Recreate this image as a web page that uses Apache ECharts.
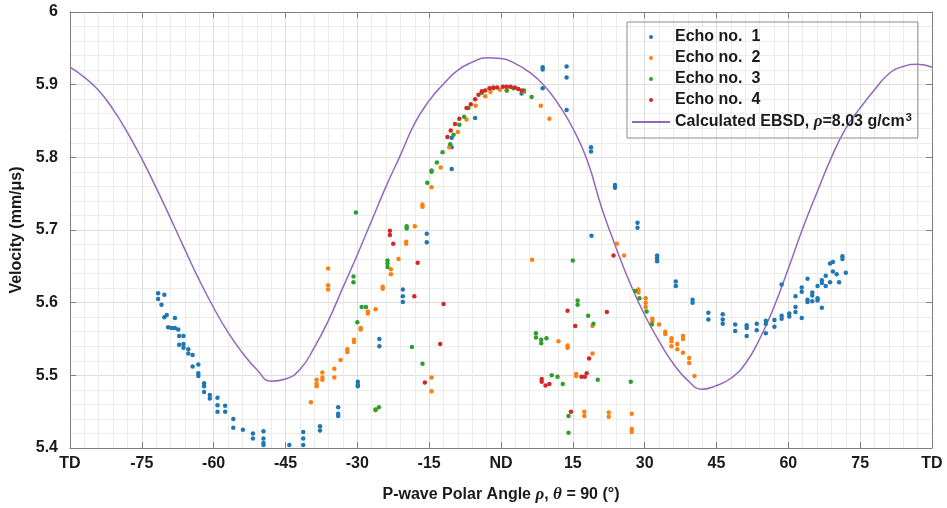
<!DOCTYPE html>
<html>
<head>
<meta charset="utf-8">
<script src="https://cdn.jsdelivr.net/npm/echarts@6.0.0/dist/echarts.min.js"></script>
<style>
  html, body { margin: 0; padding: 0; background: #fff; }
  #chart { width: 947px; height: 508px; }
</style>
</head>
<body>
<div id="chart"></div>
<script>
// x ticks every 15 deg, ends are TD, centre is ND
const xTickLabels = { '-90': 'TD', '0': 'ND', '90': 'TD' }

// calculated EBSD curve, read every 3 deg
const curveAngles = [-90, -87, -84, -81, -78, -75, -72, -69, -66, -63, -60, -57, -54, -51, -48, -45, -42, -39, -36, -33, -30,
    -27, -24, -21, -18, -15, -12, -9, -6, -3, 0, 3, 6, 9, 12, 15, 18, 21, 24, 27, 30,
    33, 36, 39, 42, 45, 48, 51, 54, 57, 60, 63, 66, 69, 72, 75, 78, 81, 84, 87, 90]
const curveValues = [5.924, 5.910, 5.892, 5.866, 5.834, 5.798, 5.758, 5.716, 5.673, 5.631, 5.593, 5.559, 5.531, 5.508, 5.492, 5.495, 5.508, 5.538, 5.576, 5.621, 5.666,
    5.713, 5.760, 5.803, 5.847, 5.878, 5.901, 5.920, 5.931, 5.937, 5.936, 5.929, 5.917, 5.899, 5.873, 5.840, 5.796, 5.731, 5.676, 5.626, 5.583,
    5.547, 5.516, 5.493, 5.481, 5.486, 5.496, 5.516, 5.550, 5.594, 5.647, 5.702, 5.752, 5.800, 5.840, 5.868, 5.893, 5.915, 5.925, 5.928, 5.924]

// measured echoes [angle, velocity]
const echo1 = [
    [-71.6, 5.613], [-71.6, 5.605], [-70.3, 5.611], [-70.9, 5.597], [-70.3, 5.580], [-69.8, 5.583], [-68.1, 5.579],
    [-69.5, 5.566], [-68.8, 5.565], [-68.1, 5.565], [-67.4, 5.563], [-67.2, 5.554], [-66.3, 5.554], [-67.2, 5.542], [-66.3, 5.543],
    [-66.3, 5.538], [-65.3, 5.536], [-65.3, 5.530], [-64.4, 5.528], [-64.4, 5.512], [-63.2, 5.515], [-63.2, 5.503], [-63.2, 5.499],
    [-62.0, 5.489], [-62.0, 5.485], [-62.0, 5.477], [-60.8, 5.473], [-60.8, 5.468], [-59.2, 5.469], [-59.2, 5.459], [-59.2, 5.450],
    [-57.6, 5.458], [-57.6, 5.450], [-55.9, 5.440], [-55.9, 5.428], [-53.9, 5.425], [-51.8, 5.420], [-51.8, 5.413],
    [-49.6, 5.423], [-49.6, 5.413], [-49.6, 5.407], [-49.6, 5.404], [-44.2, 5.404], [-41.3, 5.422], [-41.3, 5.413], [-41.3, 5.404],
    [-37.8, 5.430], [-37.8, 5.424], [-34.0, 5.456], [-34.0, 5.447], [-34.0, 5.444], [-29.9, 5.491], [-29.9, 5.487], [-29.9, 5.485],
    [-25.4, 5.550], [-25.4, 5.540], [-20.5, 5.618], [-20.5, 5.609], [-20.5, 5.601], [-15.5, 5.695], [-15.5, 5.683],
    [-10.3, 5.827], [-10.3, 5.814], [-10.3, 5.784], [-5.4, 5.854], [4.3, 5.888],
    [8.7, 5.924], [8.7, 5.921], [8.7, 5.895], [13.7, 5.925], [13.7, 5.910], [13.7, 5.865],
    [18.8, 5.814], [18.8, 5.808], [18.9, 5.692], [23.8, 5.762], [23.8, 5.758], [28.5, 5.710], [28.5, 5.703],
    [32.6, 5.665], [32.6, 5.661], [32.6, 5.657], [36.5, 5.629], [36.5, 5.623], [40.0, 5.604], [40.0, 5.600],
    [43.3, 5.586], [43.3, 5.577], [46.3, 5.584], [46.3, 5.577], [46.3, 5.571], [48.9, 5.570], [48.9, 5.561],
    [51.3, 5.569], [51.3, 5.565], [51.3, 5.554], [53.4, 5.571], [53.4, 5.562], [55.3, 5.575], [55.3, 5.571], [55.3, 5.558],
    [57.1, 5.576], [57.1, 5.567], [58.6, 5.625], [58.6, 5.582], [58.6, 5.578], [60.2, 5.585], [60.2, 5.581],
    [61.5, 5.609], [61.5, 5.594], [61.5, 5.587], [62.8, 5.621], [62.8, 5.615], [62.8, 5.579],
    [64.0, 5.633], [64.0, 5.604], [64.0, 5.601], [65.0, 5.614], [65.0, 5.610], [65.0, 5.602],
    [66.1, 5.623], [66.1, 5.606], [66.1, 5.603], [67.0, 5.593], [67.0, 5.631], [67.0, 5.627],
    [67.8, 5.637], [67.8, 5.623], [68.7, 5.654], [68.7, 5.628], [69.3, 5.656], [69.3, 5.643],
    [70.1, 5.639], [70.6, 5.628], [71.3, 5.664], [71.3, 5.660], [72.0, 5.641]
]
const echo2 = [
    [-39.7, 5.463], [-38.5, 5.494], [-38.5, 5.488], [-38.5, 5.485], [-37.3, 5.504], [-37.3, 5.497], [-37.3, 5.494],
    [-36.1, 5.647], [-36.1, 5.624], [-36.1, 5.618], [-34.8, 5.509], [-34.8, 5.497], [-33.5, 5.521],
    [-32.1, 5.536], [-32.1, 5.532], [-30.7, 5.549], [-30.7, 5.546], [-29.3, 5.565], [-29.3, 5.563], [-27.8, 5.588], [-27.8, 5.585],
    [-26.2, 5.591], [-26.2, 5.452], [-24.7, 5.622], [-24.7, 5.619], [-23.0, 5.646], [-23.0, 5.639],
    [-21.4, 5.660], [-19.8, 5.684], [-19.8, 5.681], [-18.0, 5.705], [-16.4, 5.735], [-16.4, 5.732],
    [-14.5, 5.759], [-14.5, 5.497], [-14.5, 5.478], [-12.6, 5.786], [-10.8, 5.814], [-9.0, 5.835], [-7.2, 5.852], [-5.3, 5.871],
    [-3.3, 5.884], [-2.2, 5.890], [-0.2, 5.893], [1.2, 5.892], [4.8, 5.890], [6.5, 5.659], [8.3, 5.871], [10.1, 5.853],
    [12.0, 5.547], [13.9, 5.541], [13.9, 5.538], [15.7, 5.502], [15.7, 5.499], [17.4, 5.450], [17.4, 5.444],
    [19.1, 5.568], [19.1, 5.530], [22.5, 5.449], [22.5, 5.443], [24.2, 5.681], [25.7, 5.665],
    [27.3, 5.447], [27.3, 5.426], [27.3, 5.422], [28.7, 5.618], [28.7, 5.614], [30.2, 5.606], [30.2, 5.600], [30.2, 5.594],
    [31.6, 5.578], [31.6, 5.574], [33.0, 5.570], [34.3, 5.560], [34.3, 5.557], [35.6, 5.551], [35.6, 5.547], [35.6, 5.540],
    [36.8, 5.543], [36.8, 5.536], [38.0, 5.554], [38.0, 5.550], [38.0, 5.531], [39.3, 5.524], [39.3, 5.517], [40.4, 5.499]
]
const echo3 = [
    [-30.3, 5.724], [-30.8, 5.636], [-30.8, 5.628], [-30.0, 5.573], [-29.1, 5.594], [-28.2, 5.594],
    [-26.2, 5.453], [-25.5, 5.456], [-23.7, 5.658], [-23.7, 5.654], [-23.7, 5.649],
    [-19.7, 5.705], [-19.7, 5.702], [-18.6, 5.539], [-16.4, 5.516],
    [-15.4, 5.765], [-14.5, 5.782], [-14.5, 5.780], [-13.4, 5.793], [-12.2, 5.807],
    [-10.6, 5.818], [-9.9, 5.831], [-8.7, 5.845], [-7.7, 5.856], [-6.8, 5.868],
    [-4.0, 5.889], [-1.6, 5.895], [1.2, 5.892], [2.6, 5.895], [4.8, 5.892], [6.4, 5.883],
    [7.3, 5.558], [7.3, 5.552], [8.4, 5.549], [8.4, 5.544], [9.5, 5.551],
    [10.6, 5.500], [11.8, 5.498], [12.9, 5.488], [14.1, 5.444], [14.1, 5.421],
    [15.0, 5.658], [16.0, 5.603], [16.0, 5.597], [18.2, 5.582], [19.3, 5.571],
    [20.2, 5.494], [27.1, 5.491], [28.0, 5.616], [28.9, 5.606], [30.4, 5.588], [31.5, 5.570]
]
const echo4 = [
    [-23.2, 5.699], [-23.2, 5.693], [-22.5, 5.681], [-18.1, 5.609], [-17.4, 5.655],
    [-15.9, 5.490], [-12.7, 5.543], [-12.0, 5.598],
    [-11.2, 5.828], [-10.5, 5.837], [-9.6, 5.846], [-8.7, 5.853], [-7.2, 5.868], [-6.3, 5.873],
    [-5.4, 5.880], [-4.7, 5.886], [-4.0, 5.891], [-3.3, 5.892], [-2.4, 5.895], [-1.6, 5.896],
    [-0.8, 5.896], [0.4, 5.897], [1.2, 5.897], [2.0, 5.897], [2.9, 5.896], [3.6, 5.894], [4.3, 5.892],
    [8.5, 5.495], [8.5, 5.491], [9.3, 5.486], [10.1, 5.488],
    [13.9, 5.589], [14.6, 5.450], [15.5, 5.568], [16.8, 5.498], [17.5, 5.498], [17.9, 5.503],
    [18.4, 5.523], [22.1, 5.587], [23.5, 5.665]
]

const echoNames = ['Echo no.  1', 'Echo no.  2', 'Echo no.  3', 'Echo no.  4']
const echoColors = ['#1f77b4', '#ff7f0e', '#2ca02c', '#d62728']
const curveName = 'Calculated EBSD'

const font = 'Liberation Sans, Arial, Helvetica, sans-serif'
const serif = 'Liberation Serif, Times New Roman, serif'
const axisGray = '#808080'

const chart = echarts.init(document.getElementById('chart'))

const curveData = curveAngles.map((a, i) => [a, curveValues[i]])

const commonX = {
    type: 'value',
    min: -90,
    max: 90,
    interval: 15,
    axisLine: { show: true, onZero: false, lineStyle: { color: axisGray, width: 1 } },
    axisTick: { show: true, inside: true, length: 6, lineStyle: { color: axisGray } }
}
const commonY = {
    type: 'value',
    min: 5.4,
    max: 6,
    interval: 0.1,
    axisLine: { show: true, onZero: false, lineStyle: { color: axisGray, width: 1 } },
    axisTick: { show: true, inside: true, length: 6, lineStyle: { color: axisGray } }
}

const option = {
    backgroundColor: '#ffffff',
    animation: false,
    grid: { left: 70, right: 15, top: 12, bottom: 52 },
    legend: {
        orient: 'vertical',
        left: 627,
        top: 22,
        padding: [6, 6, 6, 4],
        itemGap: 3,
        itemWidth: 38,
        itemHeight: 4,
        itemTextGap: 3,
        borderColor: '#8c8c8c',
        borderWidth: 1,
        backgroundColor: 'rgba(255,255,255,0)',
        data: [
            { name: echoNames[0], icon: 'circle' },
            { name: echoNames[1], icon: 'circle' },
            { name: echoNames[2], icon: 'circle' },
            { name: echoNames[3], icon: 'circle' },
            // line only, hide the little marker the line legend adds
            { name: curveName, itemStyle: { opacity: 0 } }
        ],
        formatter: (name) => {
            if (name === curveName) {
                return '{t|Calculated EBSD, }{i|ρ}{t|=8.03 g/cm}{s|3}'
            }
            return '{t|' + name + '}'
        },
        textStyle: {
            color: '#1a1a1a',
            fontFamily: font,
            fontWeight: 'bold',
            fontSize: 16,
            lineHeight: 18,
            rich: {
                t: { fontFamily: font, fontWeight: 'bold', fontSize: 16, lineHeight: 18, color: '#1a1a1a' },
                i: { fontFamily: serif, fontStyle: 'italic', fontWeight: 'bold', fontSize: 17, lineHeight: 18, color: '#1a1a1a' },
                s: { fontFamily: font, fontWeight: 'bold', fontSize: 11, lineHeight: 18, color: '#1a1a1a', padding: [0, 0, 9, 1] }
            }
        }
    },
    xAxis: [
        Object.assign({}, commonX, {
            position: 'bottom',
            name: 'P-wave Polar Angle {i|ρ}, {i|θ} = 90 (°)',
            nameLocation: 'middle',
            nameGap: 38,
            nameTextStyle: {
                color: '#1a1a1a',
                fontFamily: font,
                fontWeight: 'bold',
                fontSize: 16,
                rich: {
                    i: { fontFamily: serif, fontStyle: 'italic', fontSize: 17, color: '#1a1a1a' }
                }
            },
            axisLabel: {
                margin: 8,
                color: '#1a1a1a',
                fontFamily: font,
                fontWeight: 'bold',
                fontSize: 16,
                formatter: (v) => xTickLabels[String(v)] || String(v)
            },
            splitLine: { show: true, lineStyle: { color: '#dedede', width: 1 } },
            minorTick: { show: false, splitNumber: 5 },
            minorSplitLine: { show: true, lineStyle: { color: '#ececec', width: 1 } }
        }),
        Object.assign({}, commonX, {
            position: 'top',
            axisLabel: { show: false },
            splitLine: { show: false }
        })
    ],
    yAxis: [
        Object.assign({}, commonY, {
            position: 'left',
            name: 'Velocity (mm/μs)',
            nameLocation: 'middle',
            nameGap: 32,
            nameTextStyle: {
                color: '#1a1a1a',
                fontFamily: font,
                fontWeight: 'bold',
                fontSize: 16
            },
            axisLabel: {
                margin: 12,
                color: '#1a1a1a',
                fontFamily: font,
                fontWeight: 'bold',
                fontSize: 16,
                formatter: (v) => String(parseFloat(v.toFixed(2)))
            },
            splitLine: { show: true, lineStyle: { color: '#dedede', width: 1 } },
            minorTick: { show: false, splitNumber: 5 },
            minorSplitLine: { show: true, lineStyle: { color: '#ececec', width: 1 } }
        }),
        Object.assign({}, commonY, {
            position: 'right',
            axisLabel: { show: false },
            splitLine: { show: false }
        })
    ],
    series: [
        {
            name: curveName,
            type: 'line',
            data: curveData,
            smooth: true,
            symbol: 'none',
            clip: true,
            lineStyle: { color: '#9467bd', width: 1.5 },
            itemStyle: { color: '#9467bd' },
            z: 2
        },
        ...[echo1, echo2, echo3, echo4].map((d, i) => ({
            name: echoNames[i],
            type: 'scatter',
            data: d,
            symbol: 'circle',
            symbolSize: 4.5,
            clip: true,
            itemStyle: { color: echoColors[i], opacity: 1 },
            z: 3 + i
        }))
    ]
}

chart.setOption(option)
</script>
</body>
</html>
